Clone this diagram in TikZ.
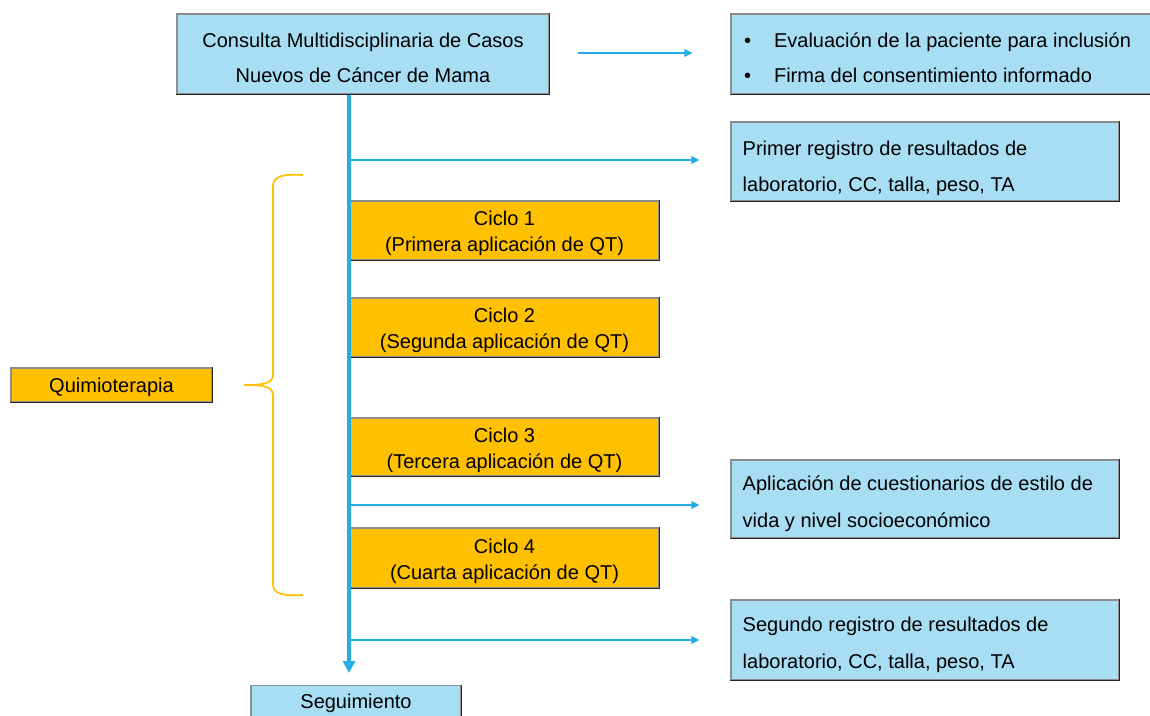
\documentclass[tikz,border=0pt]{standalone}
\usepackage{fontspec}
\setmainfont{Liberation Sans}
\usetikzlibrary{arrows.meta}
\definecolor{lblue}{HTML}{A8DEF3}
\definecolor{qorange}{HTML}{FFC000}
\definecolor{lineblue}{HTML}{23ACE6}
\tikzset{
  base/.style={draw=black!45, line width=0.8pt, inner sep=0pt},
  bluebox/.style={base, fill=lblue},
  orbox/.style={base, fill=qorange},
  txt/.style={inner sep=0pt, font=\fontsize{15}{26.25}\selectfont},
  rtxt/.style={inner sep=0pt, anchor=west, align=left, font=\fontsize{15}{27.5}\selectfont},
  otxt/.style={inner sep=0pt, align=center, font=\fontsize{15}{19.5}\selectfont},
  rightedge/.style={draw=black!85, line width=1.1pt},
  thinarrow/.style={draw=lineblue, line width=1.4pt, -{Triangle[length=6pt,width=5.5pt]}},
  mainarrow/.style={draw=lineblue, line width=2.3pt, -{Triangle[length=9pt,width=9pt]}},
  bracestyle/.style={draw=qorange, line width=1.3pt}
}
\begin{document}
\begin{tikzpicture}[x=0.75pt,y=-0.75pt]
\clip (0,0) rectangle (1150,715);
\fill[white] (0,0) rectangle (1150,715);

% boxes
\node[bluebox, minimum width=279pt, minimum height=60pt] (top) at (363,54) {};
\node[bluebox, minimum width=321.75pt, minimum height=60pt] (b1) at (945.5,54) {};
\node[bluebox, minimum width=291pt, minimum height=59.25pt] (b2) at (925,161.5) {};
\node[bluebox, minimum width=291pt, minimum height=58.5pt] (b3) at (925,499) {};
\node[bluebox, minimum width=291pt, minimum height=60pt] (b4) at (925,640) {};
\node[orbox, minimum width=231.75pt, minimum height=44.25pt] (c1) at (504.5,230.5) {};
\node[orbox, minimum width=231.75pt, minimum height=44.25pt] (c2) at (504.5,327.5) {};
\node[orbox, minimum width=231.75pt, minimum height=43.5pt] (c3) at (504.5,447) {};
\node[orbox, minimum width=231.75pt, minimum height=45pt] (c4) at (504.5,558) {};
\node[orbox, minimum width=150.75pt, minimum height=25.5pt] (q) at (111.5,385) {};
\node[bluebox, minimum width=157.5pt, minimum height=30pt, anchor=north] (seg) at (356,685) {};

% darker right/bottom edges
\foreach \n in {top,b1,b2,b3,b4,c1,c2,c3,c4,q,seg}
  \draw[rightedge] (\n.north east) -- (\n.south east) -- (\n.south west);

% texts
\node[txt, align=center] (topt) at ([yshift=-3pt]top.center)
  {Consulta Multidisciplinaria de Casos\\Nuevos de Cáncer de Mama};
\node[txt, anchor=west, align=left] (b1t) at ([xshift=10pt,yshift=-3pt]b1.west)
  {\makebox[22.5pt][l]{•}Evaluación de la paciente para inclusión\\\makebox[22.5pt][l]{•}Firma del consentimiento informado};
\node[rtxt] (b2t) at ([xshift=9pt,yshift=-5pt]b2.west)
  {Primer registro de resultados de\\laboratorio, CC, talla, peso, TA};
\node[rtxt] (b3t) at ([xshift=9pt,yshift=-3.5pt]b3.west)
  {Aplicación de cuestionarios de estilo de\\vida y nivel socioeconómico};
\node[rtxt] (b4t) at ([xshift=9pt,yshift=-3.5pt]b4.west)
  {Segundo registro de resultados de\\laboratorio, CC, talla, peso, TA};
\node[otxt] (c1t) at ([yshift=-2.25pt]c1.center) {Ciclo 1\\(Primera aplicación de QT)};
\node[otxt] (c2t) at ([yshift=-2.25pt]c2.center) {Ciclo 2\\(Segunda aplicación de QT)};
\node[otxt] (c3t) at ([yshift=-2.25pt]c3.center) {Ciclo 3\\(Tercera aplicación de QT)};
\node[otxt] (c4t) at ([yshift=-2.25pt]c4.center) {Ciclo 4\\(Cuarta aplicación de QT)};
\node[otxt] (qt) at ([yshift=-1.5pt]q.center) {Quimioterapia};
\node[otxt] (segt) at (356,703.5) {Seguimiento};

% connectors
\coordinate (vx) at (349,0);
\draw[mainarrow, shorten >=9pt] (top.south -| vx) -- (seg.north -| vx);
\draw[thinarrow, shorten <=21pt, shorten >=28.5pt] (top.east |- 0,53) -- (b1.west |- 0,53);
\coordinate (h2) at (349,160);
\coordinate (h3) at (349,505);
\coordinate (h4) at (349,640);
\draw[thinarrow, shorten >=23.25pt] (h2) -- (h2 -| b2.west);
\draw[thinarrow, shorten >=23.25pt] (h3) -- (h3 -| b3.west);
\draw[thinarrow, shorten >=23.25pt] (h4) -- (h4 -| b4.west);

% brace
\draw[bracestyle] (303,175) .. controls (282,174) and (273,176) .. (273,187)
  -- (273,374) .. controls (273,383) and (266,385) .. (244,385)
  .. controls (266,385) and (273,387) .. (273,396)
  -- (273,584) .. controls (273,594) and (282,596) .. (303,595);
\end{tikzpicture}
\end{document}
